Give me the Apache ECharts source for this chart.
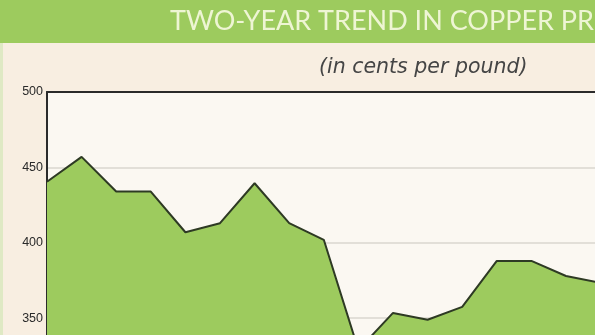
<!DOCTYPE html>
<html>
<head>
<meta charset="utf-8">
<script src="https://cdn.jsdelivr.net/npm/echarts@6/dist/echarts.min.js"></script>
<style>
html,body{margin:0;padding:0;background:#f8eee1;}
#chart{width:595px;height:335px;}
</style>
</head>
<body>
<div id="chart"></div>
<script>
const titleText = 'TWO-YEAR TREND IN COPPER PRICES';
const subtitleText = '(in cents per pound)';
const months = ['1','2','3','4','5','6','7','8','9','10','11','12','13','14','15','16','17'];
const prices = [440.5, 457, 434, 434, 407, 413, 439.5, 413, 402, 329, 353.5, 349, 357.5, 388, 388, 378, 373.5];
const yTicks = [300, 350, 400, 450, 500];

const chart = echarts.init(document.getElementById('chart'), null, {renderer:'canvas'});
chart.setOption({
  animation: false,
  backgroundColor: '#f8eee1',
  graphic: [
    {type:'rect', shape:{x:0,y:0,width:595,height:43}, style:{fill:'#9dcb5e'}, z:-1},
    {type:'rect', shape:{x:0,y:43,width:3,height:292}, style:{fill:'#dfe9c4'}, z:-1},
    {type:'text', left:170, top:8, style:{text:titleText, fill:'#eef5d4', font:'27px Lato'}},
    {type:'text', left:319, top:58, style:{text:subtitleText, fill:'#454545', font:'italic 20.5px "DejaVu Sans"'}}
  ],
  grid: {left:47, top:92, width:553.6, height:301.6, outerBoundsMode:'none', containLabel:false, show:true, backgroundColor:'#fbf8f2', borderWidth:0},
  xAxis: [
    {type:'category', data:months, boundaryGap:false, axisLine:{show:false}, axisTick:{show:false}, axisLabel:{show:false}},
    {type:'category', data:months, boundaryGap:false, position:'top', axisLine:{show:true, lineStyle:{color:'#2b2b2b', width:2}}, axisTick:{show:false}, axisLabel:{show:false}}
  ],
  yAxis: {
    type:'value', min:yTicks[0], max:yTicks[yTicks.length-1], interval:50,
    axisLine:{show:true, lineStyle:{color:'#2b2b2b', width:2}},
    axisTick:{show:false},
    axisLabel:{color:'#2a2a2a', fontSize:12.5, fontFamily:'Liberation Sans', margin:4},
    splitLine:{show:true, lineStyle:{color:'#e2dfd8', width:2}}
  },
  series: [{
    type:'line', data:prices, xAxisIndex:0, symbol:'none',
    lineStyle:{color:'#2e3a24', width:2},
    areaStyle:{color:'#9dcb5e', opacity:1}
  }]
});
</script>
</body>
</html>
